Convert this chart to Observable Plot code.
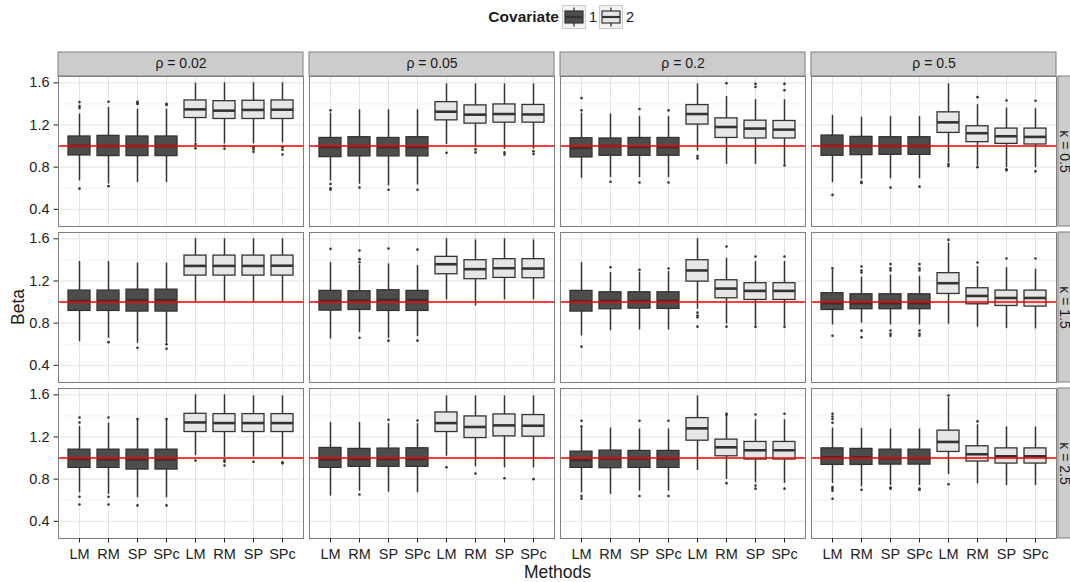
<!DOCTYPE html>
<html>
<head>
<meta charset="utf-8">
<script src="https://cdn.jsdelivr.net/npm/d3@7"></script>
<script src="https://cdn.jsdelivr.net/npm/@observablehq/plot@0.6"></script>
<style>
html, body { margin: 0; padding: 0; background: #fff; overflow: hidden; }
body { width: 1070px; height: 582px; position: relative; font-family: "Liberation Sans", Arial, sans-serif; color: #1a1a1a; }
#legend { position: absolute; left: 0; top: 0; width: 1070px; height: 36px; }
#legend .title { position: absolute; right: 511px; top: 8px; font-weight: bold; font-size: 15.5px; }
#legend .key { position: absolute; top: 5px; width: 24px; height: 24px; }
#legend .lab { position: absolute; top: 8.5px; font-size: 14.5px; }
#chart { position: absolute; left: 0; top: 40px; }
#ylab { position: absolute; left: 17.5px; top: 307px; transform: translate(-50%, -50%) rotate(-90deg); font-size: 17.5px; white-space: nowrap; }
#xlab { position: absolute; left: 0; width: 1115px; top: 561.5px; text-align: center; font-size: 17.5px; }
</style>
</head>
<body>
<div id="legend"></div>
<div id="chart"></div>
<div id="ylab">Beta</div>
<div id="xlab">Methods</div>
<script>
// ---------- data ----------
const rho = ["0.02", "0.05", "0.2", "0.5"];
const kappa = ["0.5", "1.5", "2.5"];
const methods = ["LM", "RM", "SP", "SPc"];
const covariates = ["1", "2"];
const yTicks = [0.4, 0.8, 1.2, 1.6];
const yMinor = [0.6, 1.0, 1.4];
const reference = [1];

// facet order: kappa-major, rho-minor; box order: cov1 LM RM SP SPc, cov2 LM RM SP SPc
const whiskerLow = [
  [0.669, 0.640, 0.653, 0.653, 1.030, 1.020, 1.020, 1.030],
  [0.669, 0.638, 0.622, 0.630, 1.015, 0.990, 0.970, 0.970],
  [0.694, 0.700, 0.700, 0.700, 0.952, 0.826, 0.826, 0.820],
  [0.653, 0.685, 0.690, 0.690, 0.842, 0.810, 0.794, 0.794],
  [0.624, 0.656, 0.609, 0.610, 1.004, 1.004, 0.995, 0.995],
  [0.650, 0.710, 0.656, 0.672, 1.020, 0.963, 1.020, 1.020],
  [0.678, 0.729, 0.735, 0.735, 0.932, 0.792, 0.773, 0.773],
  [0.783, 0.799, 0.783, 0.783, 0.790, 0.761, 0.748, 0.745],
  [0.671, 0.655, 0.624, 0.624, 1.023, 1.007, 1.010, 1.000],
  [0.639, 0.686, 0.677, 0.671, 1.017, 0.917, 0.907, 0.907],
  [0.671, 0.655, 0.686, 0.686, 0.882, 0.797, 0.765, 0.760],
  [0.760, 0.727, 0.740, 0.740, 0.844, 0.756, 0.740, 0.740]
];
const quartile1 = [
  [0.911, 0.905, 0.905, 0.905, 1.266, 1.257, 1.257, 1.257],
  [0.895, 0.902, 0.902, 0.902, 1.244, 1.213, 1.222, 1.222],
  [0.892, 0.908, 0.908, 0.908, 1.204, 1.077, 1.072, 1.072],
  [0.908, 0.914, 0.917, 0.917, 1.125, 1.037, 1.021, 1.015],
  [0.916, 0.916, 0.910, 0.910, 1.251, 1.251, 1.251, 1.251],
  [0.919, 0.925, 0.916, 0.916, 1.264, 1.217, 1.229, 1.226],
  [0.910, 0.932, 0.938, 0.935, 1.194, 1.036, 1.020, 1.020],
  [0.925, 0.932, 0.932, 0.932, 1.077, 0.979, 0.963, 0.957],
  [0.907, 0.907, 0.891, 0.891, 1.247, 1.247, 1.247, 1.247],
  [0.907, 0.917, 0.917, 0.917, 1.247, 1.190, 1.206, 1.203],
  [0.907, 0.904, 0.907, 0.907, 1.165, 1.017, 0.986, 0.986],
  [0.935, 0.935, 0.938, 0.938, 1.058, 0.967, 0.948, 0.948]
];
const medians = [
  [1.002, 1.000, 1.000, 1.000, 1.348, 1.336, 1.343, 1.345],
  [0.990, 0.995, 0.990, 0.990, 1.326, 1.298, 1.304, 1.300],
  [0.983, 1.000, 0.990, 0.990, 1.304, 1.181, 1.166, 1.156],
  [1.002, 1.000, 1.000, 1.000, 1.225, 1.122, 1.093, 1.087],
  [1.011, 1.011, 1.017, 1.017, 1.343, 1.343, 1.343, 1.345],
  [1.011, 1.014, 1.020, 1.020, 1.359, 1.312, 1.321, 1.318],
  [1.008, 1.011, 1.011, 1.011, 1.300, 1.128, 1.106, 1.106],
  [0.989, 0.989, 0.989, 0.989, 1.179, 1.058, 1.039, 1.039],
  [0.992, 0.986, 0.986, 0.986, 1.338, 1.332, 1.332, 1.332],
  [0.986, 0.992, 0.992, 0.992, 1.332, 1.295, 1.310, 1.307],
  [0.980, 0.995, 0.995, 0.995, 1.282, 1.102, 1.074, 1.074],
  [1.007, 1.007, 0.998, 0.998, 1.153, 1.036, 1.017, 1.017]
];
const quartile3 = [
  [1.091, 1.097, 1.091, 1.091, 1.433, 1.426, 1.430, 1.433],
  [1.077, 1.084, 1.077, 1.084, 1.417, 1.386, 1.395, 1.390],
  [1.074, 1.072, 1.077, 1.077, 1.389, 1.263, 1.241, 1.238],
  [1.100, 1.087, 1.084, 1.084, 1.320, 1.188, 1.166, 1.166],
  [1.109, 1.109, 1.118, 1.118, 1.441, 1.441, 1.441, 1.441],
  [1.106, 1.103, 1.112, 1.106, 1.429, 1.397, 1.407, 1.407],
  [1.106, 1.093, 1.093, 1.093, 1.397, 1.207, 1.179, 1.179],
  [1.084, 1.074, 1.074, 1.074, 1.274, 1.131, 1.109, 1.109],
  [1.080, 1.080, 1.080, 1.080, 1.420, 1.417, 1.417, 1.417],
  [1.096, 1.087, 1.090, 1.093, 1.433, 1.395, 1.414, 1.408],
  [1.061, 1.071, 1.068, 1.068, 1.379, 1.175, 1.153, 1.153],
  [1.092, 1.087, 1.080, 1.080, 1.260, 1.112, 1.092, 1.092]
];
const whiskerHigh = [
  [1.304, 1.367, 1.350, 1.350, 1.596, 1.600, 1.600, 1.600],
  [1.313, 1.345, 1.345, 1.345, 1.590, 1.590, 1.590, 1.590],
  [1.313, 1.304, 1.282, 1.282, 1.590, 1.471, 1.440, 1.440],
  [1.291, 1.273, 1.279, 1.280, 1.590, 1.392, 1.360, 1.355],
  [1.385, 1.385, 1.369, 1.369, 1.600, 1.600, 1.600, 1.600],
  [1.375, 1.353, 1.362, 1.346, 1.600, 1.590, 1.600, 1.590],
  [1.375, 1.280, 1.280, 1.290, 1.600, 1.416, 1.385, 1.385],
  [1.305, 1.236, 1.258, 1.245, 1.559, 1.337, 1.327, 1.312],
  [1.300, 1.332, 1.364, 1.364, 1.600, 1.600, 1.590, 1.590],
  [1.338, 1.338, 1.326, 1.326, 1.590, 1.590, 1.590, 1.590],
  [1.285, 1.285, 1.276, 1.276, 1.590, 1.402, 1.364, 1.364],
  [1.285, 1.280, 1.276, 1.276, 1.570, 1.316, 1.295, 1.295]
];
const outliers = [
  [[1.36, 1.38, 1.417, 0.596], [1.42, 0.62], [1.40, 1.41, 1.42], [1.39, 1.40], [1.02, 0.98], [1.0, 0.975], [0.99, 0.97, 0.945], [0.99, 0.965, 0.92]],
  [[1.339, 0.64, 0.60, 0.585], [0.606], [0.585], [0.585], [0.936], [0.97, 0.94], [0.94, 0.92], [0.95, 0.925]],
  [[1.339, 1.455], [0.662], [1.351, 0.655], [1.339, 0.655], [0.905, 0.883], [1.596], [1.59, 1.56], [1.59, 1.53, 0.815]],
  [[0.537], [0.66, 0.65], [0.606], [0.615], [0.83, 0.81], [1.464, 0.80], [1.433, 0.78, 0.77], [1.43, 0.76]],
  [[], [0.62], [0.567], [0.60, 0.557], [], [], [], []],
  [[1.505], [1.489, 1.407, 1.378, 0.662], [1.508, 0.634], [1.498, 0.634], [], [], [], []],
  [[0.577], [1.331], [1.305], [1.318], [0.90, 0.872, 0.856, 0.767], [1.527, 0.767], [1.432, 0.765], [1.432, 0.765]],
  [[1.321, 0.681], [1.337, 1.30, 1.28, 0.729, 0.666], [1.36, 1.32, 1.30, 0.73, 0.70, 0.68], [1.36, 1.32, 1.30, 0.73, 0.70, 0.68], [1.59], [1.375], [1.413], [1.413]],
  [[1.385, 1.338, 0.633, 0.56], [1.385, 0.633, 0.56], [1.37, 0.551], [1.37, 0.551], [0.976], [0.98, 0.965, 0.93], [0.964], [0.96, 0.95]],
  [[], [0.655], [1.364], [1.357], [0.913], [0.853], [0.809], [0.80]],
  [[1.354, 1.30, 0.64, 0.615], [], [1.354, 0.64], [1.354, 0.64], [], [1.42, 1.41, 0.762], [1.414, 0.74, 0.71], [1.42, 0.71]],
  [[1.42, 1.395, 1.37, 1.335, 0.725, 0.71, 0.69, 0.614], [0.70], [0.72, 0.71], [0.71, 0.70], [1.594, 0.752], [1.348], [], []]
];

// ---------- tables built from the arrays ----------
const keys = covariates.flatMap(c => methods.map(m => c + "\u00b7" + m));
const boxes = [], points = [];
kappa.forEach((k, ki) => rho.forEach((r, ri) => {
  const f = ki * rho.length + ri;
  keys.forEach((key, b) => {
    boxes.push({kappa: k, rho: r, key, cov: key.split("\u00b7")[0],
      lo: whiskerLow[f][b], q1: quartile1[f][b], med: medians[f][b], q3: quartile3[f][b], hi: whiskerHigh[f][b]});
    outliers[f][b].forEach(v => points.push({kappa: k, rho: r, key, value: v}));
  });
}));
const topStrips = rho.map(r => ({rho: r, kappa: kappa[0]}));
const rightStrips = kappa.map(k => ({rho: rho[rho.length - 1], kappa: k}));

// ---------- layout ----------
const W = 1070, H = 520, mL = 58, mR = 13, mT = 35, mB = 21;
const fxPad = 0.023, fyPad = 0.037;
const panelW = (W - mL - mR) / (rho.length - fxPad) * (1 - fxPad);
const stripSize = 24, stripGap = 1.5;
const dark = "#333333";
const fillRange = ["#4d4d4d", "#e6e6e6"];

const chart = Plot.plot({
  width: W, height: H,
  marginLeft: mL, marginRight: mR, marginTop: mT, marginBottom: mB,
  style: {fontFamily: "Liberation Sans, Arial, sans-serif", fontSize: "14.5px", color: "#1a1a1a", background: "#fff"},
  fx: {domain: rho, axis: null, paddingInner: fxPad, paddingOuter: 0},
  fy: {domain: kappa, axis: null, paddingInner: fyPad, paddingOuter: 0},
  x: {domain: keys, paddingInner: 0.25, paddingOuter: 0.225},
  y: {domain: [0.237, 1.66]},
  color: {domain: covariates, range: fillRange},
  marks: [
    Plot.gridY(yMinor, {stroke: "#f3f3f3", strokeOpacity: 1}),
    Plot.gridY(yTicks, {stroke: "#e3e3e3", strokeOpacity: 1}),
    Plot.gridX({stroke: "#e3e3e3", strokeOpacity: 1}),
    Plot.ruleX(boxes, {fx: "rho", fy: "kappa", x: "key", y1: "lo", y2: "q1", stroke: dark, strokeWidth: 1.5}),
    Plot.ruleX(boxes, {fx: "rho", fy: "kappa", x: "key", y1: "q3", y2: "hi", stroke: dark, strokeWidth: 1.5}),
    Plot.barY(boxes, {fx: "rho", fy: "kappa", x: "key", y1: "q1", y2: "q3", fill: "cov", stroke: dark, strokeWidth: 1.3}),
    Plot.tickY(boxes, {fx: "rho", fy: "kappa", x: "key", y: "med", stroke: dark, strokeWidth: 2.6}),
    Plot.dot(points, {fx: "rho", fy: "kappa", x: "key", y: "value", r: 1.3, fill: dark, stroke: null}),
    Plot.ruleY(reference, {stroke: "#ff0000", strokeWidth: 1.5}),
    Plot.frame({stroke: "#7f7f7f", strokeWidth: 1}),
    // facet strips
    Plot.rect(topStrips, {fx: "rho", fy: "kappa", y1: () => 1.66, y2: () => 1.66, insetTop: -stripSize, fill: "#cccccc", stroke: "#7f7f7f"}),
    Plot.text(topStrips, {fx: "rho", fy: "kappa", text: d => "\u03c1 = " + d.rho, frameAnchor: "top", lineAnchor: "middle", textAnchor: "middle", dy: -stripSize / 2 - 0.5, fontSize: 14, fill: "#1a1a1a"}),
    Plot.rect(rightStrips, {fx: "rho", fy: "kappa", insetLeft: panelW + stripGap, insetRight: -(stripGap + stripSize), fill: "#cccccc", stroke: "#7f7f7f"}),
    Plot.text(rightStrips, {fx: "rho", fy: "kappa", text: d => "\u03ba = " + d.kappa, frameAnchor: "right", lineAnchor: "middle", textAnchor: "middle", dx: 8, rotate: 90, fontSize: 14, fill: "#1a1a1a"}),
    // axes
    Plot.axisY({ticks: yTicks, tickFormat: ".1f", tickSize: 4.5, tickPadding: 4.5, fontSize: 14.5, label: null, color: "#222"}),
    Plot.axisX({tickFormat: d => d.split("\u00b7")[1], tickSize: 4.5, tickPadding: 6, fontSize: 14.5, label: null, color: "#222"})
  ]
});
document.getElementById("chart").appendChild(chart);

// ---------- legend ----------
const legend = document.getElementById("legend");
const title = document.createElement("div");
title.className = "title"; title.textContent = "Covariate";
legend.appendChild(title);
const keyLeft = [562, 599];
covariates.forEach((c, i) => {
  const ns = "http://www.w3.org/2000/svg";
  const s = document.createElementNS(ns, "svg");
  s.setAttribute("class", "key"); s.setAttribute("width", 24); s.setAttribute("height", 24);
  s.style.left = keyLeft[i] + "px";
  s.innerHTML = `<rect x="0.5" y="0.5" width="23" height="23" fill="#f2f2f2" stroke="#cccccc"/>
    <line x1="12" x2="12" y1="2.4" y2="21.6" stroke="${dark}" stroke-width="1.3"/>
    <rect x="3" y="6" width="18" height="12" fill="${fillRange[i]}" stroke="${dark}" stroke-width="1.2"/>
    <line x1="3" x2="21" y1="12" y2="12" stroke="${dark}" stroke-width="2.2"/>`;
  legend.appendChild(s);
  const l = document.createElement("div");
  l.className = "lab"; l.textContent = c; l.style.left = (keyLeft[i] + 27) + "px";
  legend.appendChild(l);
});
</script>
</body>
</html>
